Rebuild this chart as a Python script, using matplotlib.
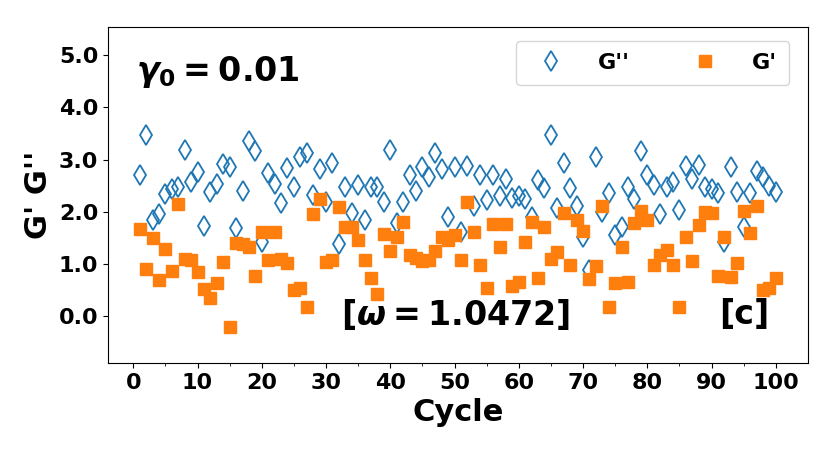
import numpy as np
import matplotlib
matplotlib.use('Agg')
import matplotlib.pyplot as plt

cycles = np.arange(1, 101)

g_loss = [2.70, 3.47, 1.84, 1.95, 2.34, 2.43, 2.48, 3.18, 2.57, 2.76,
          1.73, 2.38, 2.54, 2.91, 2.86, 1.68, 2.40, 3.36, 3.17, 1.42,
          2.75, 2.54, 2.17, 2.83, 2.47, 3.05, 3.12, 2.32, 2.81, 2.19,
          2.94, 1.38, 2.48, 1.98, 2.51, 1.84, 2.48, 2.47, 2.19, 3.19,
          1.78, 2.19, 2.71, 2.40, 2.86, 2.67, 3.12, 2.81, 1.90, 2.86,
          1.61, 2.87, 2.11, 2.71, 2.22, 2.71, 2.30, 2.62, 2.27, 2.30,
          2.24, 1.90, 2.61, 2.45, 3.47, 2.07, 2.93, 2.45, 2.11, 1.52,
          0.88, 3.04, 2.00, 2.35, 1.55, 1.71, 2.47, 2.25, 3.17, 2.70,
          2.51, 1.95, 2.47, 2.57, 2.04, 2.87, 2.62, 2.89, 2.47, 2.43,
          2.36, 1.42, 2.85, 2.38, 1.71, 2.36, 2.78, 2.67, 2.49, 2.38]

g_storage = [1.66, 0.91, 1.50, 0.69, 1.28, 0.87, 2.14, 1.10, 1.07, 0.84,
             0.51, 0.34, 0.64, 1.04, -0.22, 1.39, 1.38, 1.33, 0.77, 1.62,
             1.07, 1.62, 1.10, 1.02, 0.50, 0.53, 0.18, 1.95, 2.24, 1.04,
             1.07, 2.09, 1.71, 1.70, 1.46, 1.07, 0.72, 0.42, 1.57, 1.25,
             1.51, 1.81, 1.17, 1.12, 1.06, 1.07, 1.25, 1.52, 1.46, 1.55,
             1.07, 2.19, 1.62, 0.98, 0.53, 1.76, 1.33, 1.76, 0.57, 0.66,
             1.42, 1.81, 0.73, 1.70, 1.10, 1.22, 1.98, 0.98, 1.84, 1.63,
             0.71, 0.96, 2.11, 0.18, 0.63, 1.33, 0.65, 1.78, 2.01, 1.84,
             0.98, 1.16, 1.26, 0.98, 0.18, 1.52, 1.06, 1.74, 2.00, 1.98,
             0.77, 1.52, 0.75, 1.02, 2.01, 1.60, 2.11, 0.50, 0.54, 0.72]

plt.rcParams['font.weight'] = 'bold'
plt.rcParams['axes.labelweight'] = 'bold'

fig = plt.figure(figsize=(8.3, 4.53), dpi=100)
ax = fig.add_axes([0.130, 0.199, 0.843, 0.741])

ax.plot(cycles, g_loss, linestyle='none', marker='d', markersize=10,
        markerfacecolor='none', markeredgecolor='#1f77b4', markeredgewidth=1.3,
        label="G''")
ax.plot(cycles, g_storage, linestyle='none', marker='s', markersize=9,
        color='#ff7f0e', label="G'")

ax.set_ylim(-0.9, 5.54)
ax.set_yticks([0, 1, 2, 3, 4, 5])
ax.set_yticklabels(['0.0', '1.0', '2.0', '3.0', '4.0', '5.0'])
ax.set_xticks(np.arange(0, 101, 10))
ax.set_xticks(np.arange(5, 101, 10), minor=True)
ax.tick_params(axis='both', which='major', labelsize=16)

ax.set_xlabel('Cycle', fontsize=22, fontweight='bold')
ax.set_ylabel("G' G''", fontsize=22, fontweight='bold')

ax.text(0.04, 0.865, r'$\boldsymbol{\gamma_0 = 0.01}$', transform=ax.transAxes,
        fontsize=24, va='center', ha='left')
ax.text(0.497, 0.143, r'$\boldsymbol{[\omega = 1.0472]}$', transform=ax.transAxes,
        fontsize=24, va='center', ha='center')
ax.text(0.91, 0.143, '[c]', transform=ax.transAxes, fontsize=24,
        fontweight='bold', va='center', ha='center')

ax.legend(loc='upper right', bbox_to_anchor=(0.993, 1.0), ncol=2,
          prop={'size': 16, 'weight': 'bold'}, borderpad=0.56,
          handletextpad=1.1, columnspacing=2.4, borderaxespad=0.6)

plt.savefig('out.png', dpi=100)
